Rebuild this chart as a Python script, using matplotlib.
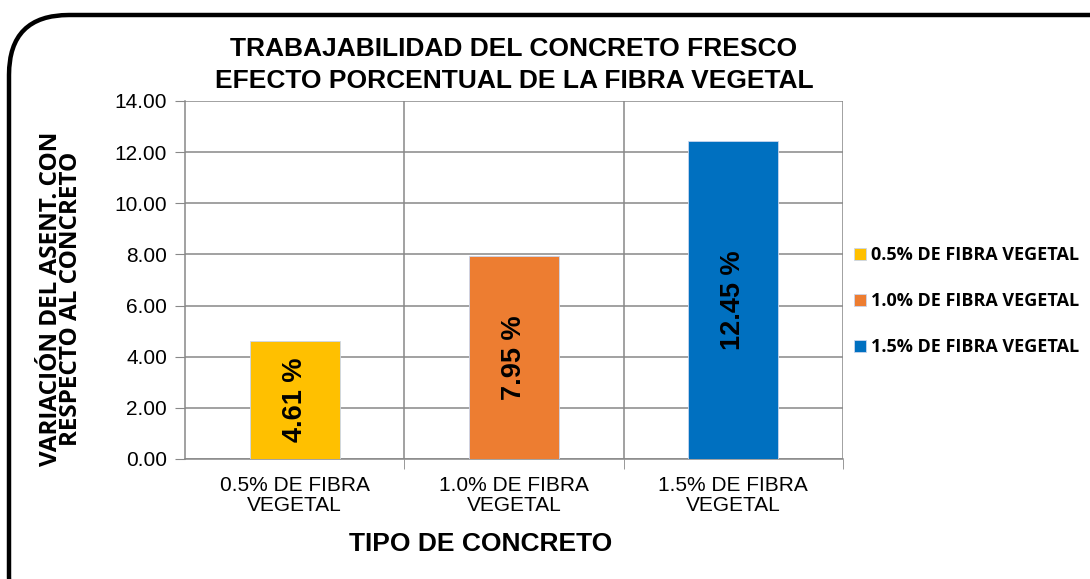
import matplotlib.pyplot as plt
from matplotlib.patches import FancyBboxPatch
import numpy as np

# datos
categorias = ["0.5% DE FIBRA\nVEGETAL", "1.0% DE FIBRA\nVEGETAL", "1.5% DE FIBRA\nVEGETAL"]
series = ["0.5% DE FIBRA VEGETAL", "1.0% DE FIBRA VEGETAL", "1.5% DE FIBRA VEGETAL"]
valores = [4.61, 7.95, 12.45]
colores = ["#FFC000", "#ED7D31", "#0070C0"]
yticks = [0, 2, 4, 6, 8, 10, 12, 14]

plt.rcParams['font.family'] = ['Liberation Sans', 'DejaVu Sans']

fig = plt.figure(figsize=(10.9, 5.79), dpi=100)

# marco redondeado
marco = FancyBboxPatch((9 / 1090, -0.1), 1.2, 1.1 - 15 / 579,
                       boxstyle="round,pad=0,rounding_size=0.055",
                       transform=fig.transFigure, fill=False,
                       edgecolor="black", linewidth=3.2, mutation_aspect=1.88)
fig.patches.append(marco)

ax = fig.add_axes([185 / 1090, 120 / 579, 658 / 1090, 358 / 579])

x = np.arange(len(valores))
for i in range(len(valores)):
    ax.bar(x[i], valores[i], width=0.41, color=colores[i],
           edgecolor="#c9d6ee", linewidth=0.6, label=series[i], zorder=3)
    ax.text(x[i], valores[i] / 2, f"{valores[i]:.2f} %", rotation=90,
            ha="center", va="center", fontsize=19.5, fontweight="bold", zorder=4)

ax.set_xlim(-0.5, 2.5)
ax.set_ylim(0, 14)
ax.set_yticks(yticks)
ax.set_yticklabels([f"{v:.2f}" for v in yticks], fontsize=15)
ax.set_xticks(x)
ax.set_xticklabels(categorias, fontsize=15, linespacing=1.1)
ax.tick_params(axis="x", length=0, pad=12)
ax.set_xticks([0.5, 1.5, 2.5], minor=True)
ax.tick_params(axis="x", which="minor", length=7, color="#888888")
ax.tick_params(axis="y", length=7, color="#888888", pad=6)

ax.grid(axis="y", color="#888888", linewidth=1.1, zorder=0)
ax.grid(axis="x", which="minor", color="#888888", linewidth=1.1, zorder=0)
for s in ["top", "right"]:
    ax.spines[s].set_visible(False)
ax.spines["left"].set_color("#888888")
ax.spines["bottom"].set_color("#888888")
ax.spines["left"].set_linewidth(1.1)
ax.spines["bottom"].set_linewidth(1.1)

fig.text(514 / 1090, 1 - 65 / 579, "TRABAJABILIDAD DEL CONCRETO FRESCO\nEFECTO PORCENTUAL DE LA FIBRA VEGETAL",
         ha="center", va="center", fontsize=19, fontweight="bold", linespacing=1.4)
fig.text(481 / 1090, 1 - 544 / 579, "TIPO DE CONCRETO", ha="center", va="center",
         fontsize=19, fontweight="bold")
fig.text(61 / 1090, 1 - 299 / 579, "VARIACIÓN DEL ASENT. CON\nRESPECTO AL CONCRETO", rotation=90,
         ha="center", va="center", fontsize=17.5, fontweight="bold", linespacing=0.8,
         family=["Open Sans", "DejaVu Sans"])

leg = fig.legend(loc="upper left", bbox_to_anchor=(838 / 1090, 1 - 230 / 579), frameon=False,
                 prop={"family": "Open Sans", "weight": "bold", "size": 13},
                 handlelength=0.65, handleheight=0.65, handletextpad=0.3, labelspacing=1.55)

fig.savefig("out.png", dpi=100)
